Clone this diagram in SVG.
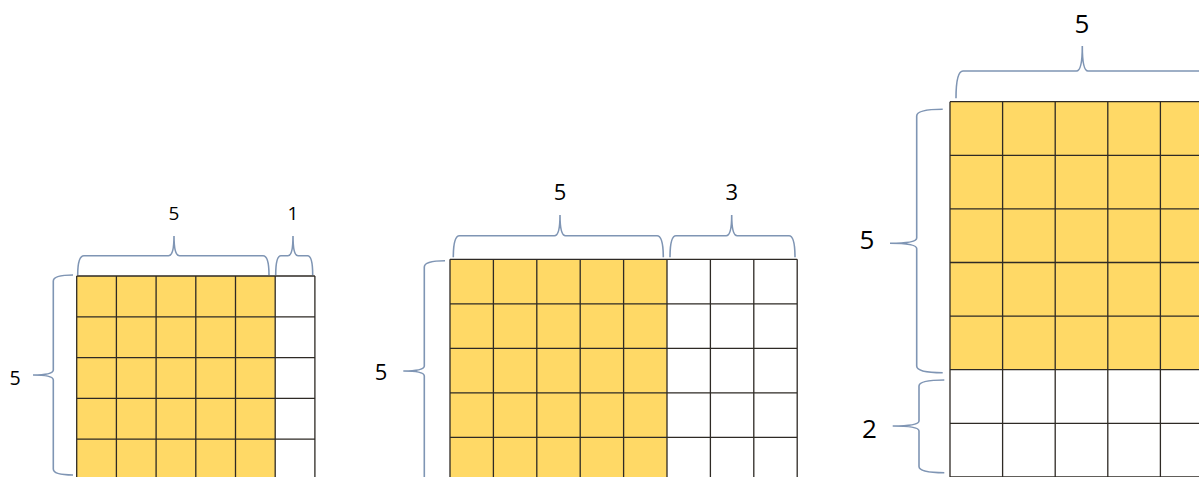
<svg xmlns="http://www.w3.org/2000/svg" width="1199" height="477" viewBox="0 0 1199 477">
<style>
.y{fill:#FFD966}
.w{fill:#ffffff}
.g{stroke:#2e2a25;stroke-width:1.3;fill:none}
.b{stroke:#7f95b4;stroke-width:1.6;fill:none}
.t{font-family:"Open Sans","Liberation Sans",sans-serif;fill:#000;text-anchor:middle;dominant-baseline:central}
</style>
<rect width="1199" height="477" fill="#ffffff"/>
<g id="grid-left">
<rect class="y" x="76.7" y="276" width="198.5" height="204"/>
<rect class="w" x="275.2" y="276" width="39.7" height="204"/>
<path class="g" d="M76.7 276V480M116.4 276V480M156.1 276V480M195.8 276V480M235.5 276V480M275.2 276V480M314.9 276V480M76.7 276H314.9M76.7 316.8H314.9M76.7 357.6H314.9M76.7 398.4H314.9M76.7 439.2H314.9M76.7 480H314.9"/>
</g>
<g id="grid-middle">
<rect class="y" x="450" y="259.3" width="217" height="222.5"/>
<rect class="w" x="667" y="259.3" width="130.2" height="222.5"/>
<path class="g" d="M450 259.3V481.8M493.4 259.3V481.8M536.8 259.3V481.8M580.2 259.3V481.8M623.6 259.3V481.8M667 259.3V481.8M710.4 259.3V481.8M753.8 259.3V481.8M797.2 259.3V481.8M450 259.3H797.2M450 303.8H797.2M450 348.3H797.2M450 392.8H797.2M450 437.3H797.2M450 481.8H797.2"/>
</g>
<g id="grid-right">
<rect class="y" x="950" y="101.7" width="263" height="268"/>
<rect class="w" x="950" y="369.7" width="263" height="107.2"/>
<path class="g" d="M950 101.7V476.9M1002.6 101.7V476.9M1055.2 101.7V476.9M1107.8 101.7V476.9M1160.4 101.7V476.9M1213 101.7V476.9M950 101.7H1213M950 155.3H1213M950 208.9H1213M950 262.5H1213M950 316.1H1213M950 369.7H1213M950 423.3H1213M950 476.9H1213"/>
</g>
<g id="braces">
<path class="b" d="M77.7 275Q77.7 255.7 84 255.7L168.5 255.7Q174 255.7 174 236Q174 255.7 179.5 255.7L263 255.7Q269 255.7 269 275"/>
<path class="b" d="M275.7 275Q275.7 255.7 281 255.7L288 255.7Q293 255.7 293 236Q293 255.7 298 255.7L307.5 255.7Q312.7 255.7 312.7 275"/>
<path class="b" d="M73 275Q53.3 275 53.3 281L53.3 370Q53.3 375 33 375Q53.3 375 53.3 380L53.3 469Q53.3 475 73 475"/>
<path class="b" d="M453.3 257.3Q453.3 235.7 459.5 235.7L554.5 235.7Q560 235.7 560 215Q560 235.7 565.5 235.7L657 235.7Q663.3 235.7 663.3 257.3"/>
<path class="b" d="M670 257.3Q670 235.7 676 235.7L726.2 235.7Q731.7 235.7 731.7 215Q731.7 235.7 737.2 235.7L789 235.7Q795 235.7 795 257.3"/>
<path class="b" d="M445 260.7Q424.3 260.7 424.3 267L424.3 366Q424.3 371 403.3 371Q424.3 371 424.3 376L424.3 490"/>
<path class="b" d="M956 98.3Q956 71 963 71L1076.5 71Q1082.3 71 1082.3 46Q1082.3 71 1088 71L1201 71Q1208 71 1208 98.3"/>
<path class="b" d="M942.7 109.3Q916.7 109.3 916.7 116L916.7 238Q916.7 243.3 890 243.3Q916.7 243.3 916.7 248.6L916.7 366Q916.7 372.7 942.7 372.7"/>
<path class="b" d="M944.3 380Q919 380 919 386L919 421Q919 426 892.7 426Q919 426 919 431L919 466.5Q919 472.7 944.3 472.7"/>
</g>
<g id="labels">
<text class="t" x="174" y="212.5" font-size="19">5</text>
<text class="t" x="293" y="212.5" font-size="19">1</text>
<text class="t" x="15" y="377" font-size="19.5">5</text>
<text class="t" x="560" y="191" font-size="22">5</text>
<text class="t" x="731.7" y="191" font-size="22">3</text>
<text class="t" x="381" y="370.5" font-size="22">5</text>
<text class="t" x="1082" y="22.5" font-size="26">5</text>
<text class="t" x="867" y="238.5" font-size="26">5</text>
<text class="t" x="869.5" y="427.5" font-size="26">2</text>
</g>
</svg>
